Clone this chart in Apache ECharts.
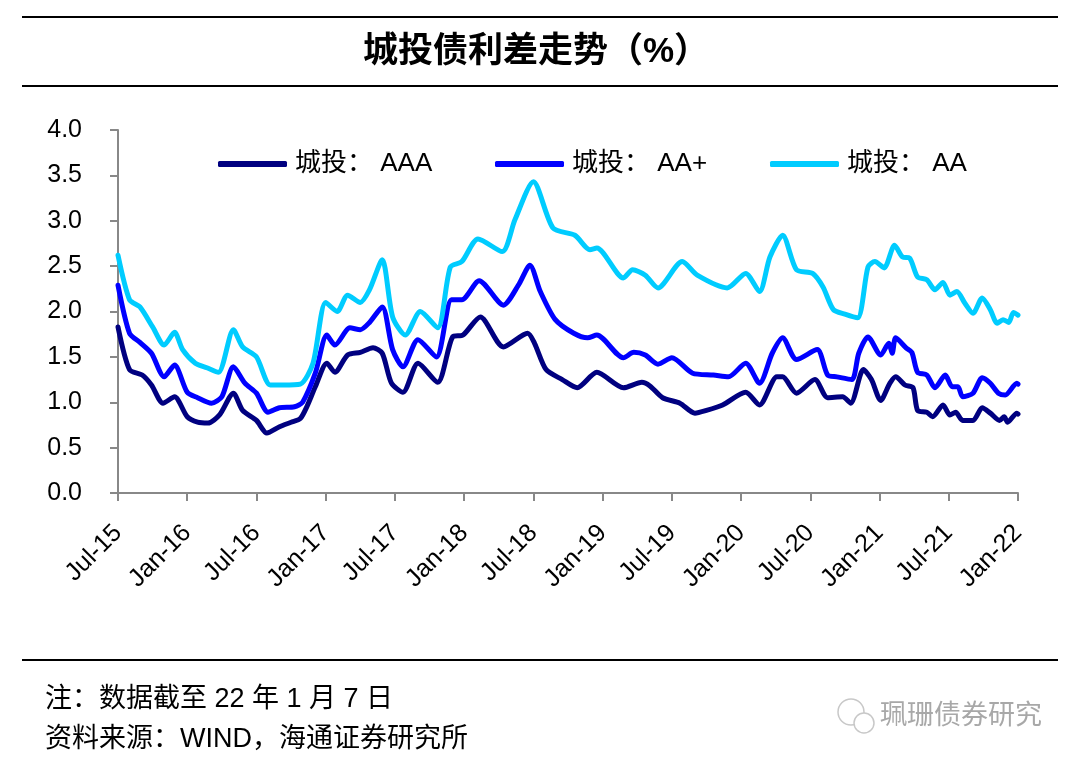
<!DOCTYPE html>
<html>
<head>
<meta charset="utf-8">
<title>城投债利差走势</title>
<script src="https://cdn.jsdelivr.net/npm/echarts@6.0.0/dist/echarts.min.js"></script>
<style>
  html, body { margin: 0; padding: 0; background: #fff; }
  #main { width: 1080px; height: 768px; }
</style>
</head>
<body>
<div id="main"></div>
<script>
// x 轴按月计：0 = 2015年7月，78 = 2022年1月
const tickLabels = ['Jul-15', 'Jan-16', 'Jul-16', 'Jan-17', 'Jul-17', 'Jan-18', 'Jul-18',
  'Jan-19', 'Jul-19', 'Jan-20', 'Jul-20', 'Jan-21', 'Jul-21', 'Jan-22']

const seriesNames = ['城投：AAA', '城投：AA+', '城投：AA']

// 城投：AAA
const aaaMonths = [0, 1, 2.1, 2.9, 3.9, 4.9, 6, 6.9, 7.8, 8.8, 10, 10.8, 12, 12.9, 14, 15, 15.8, 16.4,
  17.1, 18.1, 18.8, 19.9, 21, 22.1, 22.9, 23.7, 24.7, 26, 27.7, 29, 29.9, 31.4, 33.4, 35.5, 36.1,
  37.1, 38.5, 39.8, 41.5, 43.8, 45.4, 46.1, 47.2, 48.7, 50, 51, 52.4, 54.4, 55.6, 57.1, 57.6, 58.8,
  60.4, 61.5, 62.8, 63.5, 64.6, 65.3, 66.1, 66.9, 67.4, 68.2, 68.9, 69.3, 70.1, 70.6, 71.5, 72.1,
  72.6, 73.2, 74.1, 74.9, 75.6, 76.4, 76.8, 77.1, 77.9, 78]
const aaaValues = [1.83, 1.36, 1.30, 1.19, 0.99, 1.06, 0.84, 0.78, 0.77, 0.86, 1.10, 0.91, 0.80, 0.66,
  0.73, 0.78, 0.82, 0.96, 1.17, 1.43, 1.33, 1.52, 1.55, 1.60, 1.54, 1.21, 1.11, 1.43, 1.22, 1.72,
  1.74, 1.94, 1.61, 1.76, 1.65, 1.36, 1.25, 1.16, 1.33, 1.16, 1.22, 1.18, 1.05, 0.99, 0.88, 0.91,
  0.97, 1.11, 0.97, 1.28, 1.28, 1.10, 1.25, 1.05, 1.06, 0.99, 1.36, 1.25, 1.02, 1.21, 1.28, 1.19,
  1.16, 0.91, 0.89, 0.84, 0.97, 0.86, 0.89, 0.80, 0.80, 0.94, 0.88, 0.80, 0.84, 0.78, 0.88, 0.87]

// 城投：AA+
const aapMonths = [0, 1, 1.9, 2.9, 4, 4.9, 6, 6.9, 8.1, 9, 10, 11, 12, 13, 14, 15.3, 16, 17.1, 18.1,
  18.8, 20.1, 21, 21.8, 22.9, 23.8, 24.7, 26, 27.6, 28.9, 29.8, 31.3, 33.4, 34.7, 35.7, 36.6, 37.9,
  39.5, 40.7, 41.5, 43.8, 44.7, 45.7, 46.8, 48, 49.8, 51.6, 52.9, 54.4, 55.6, 56.7, 57.6, 58.8, 60.6,
  61.5, 62.3, 63.6, 64.2, 65, 66.1, 66.8, 67.1, 67.4, 68.3, 68.8, 69.3, 70.1, 70.8, 71.7, 72.3, 72.8,
  73.2, 74.1, 74.9, 75.6, 76.3, 76.9, 77.9, 78]
const aapValues = [2.29, 1.76, 1.66, 1.54, 1.28, 1.41, 1.11, 1.05, 0.99, 1.06, 1.39, 1.21, 1.10, 0.89,
  0.94, 0.95, 1.00, 1.32, 1.74, 1.63, 1.82, 1.80, 1.88, 2.05, 1.58, 1.39, 1.69, 1.50, 2.13, 2.13,
  2.34, 2.07, 2.29, 2.51, 2.22, 1.91, 1.76, 1.71, 1.74, 1.49, 1.55, 1.52, 1.42, 1.49, 1.32, 1.30,
  1.28, 1.43, 1.21, 1.54, 1.71, 1.47, 1.58, 1.30, 1.28, 1.25, 1.54, 1.72, 1.52, 1.65, 1.54, 1.71,
  1.60, 1.55, 1.33, 1.30, 1.16, 1.30, 1.17, 1.17, 1.06, 1.10, 1.27, 1.21, 1.10, 1.08, 1.21, 1.20]

// 城投：AA
const aaMonths = [0, 1, 1.9, 3, 4, 4.9, 5.6, 6.7, 7.7, 8.7, 10, 10.8, 12, 13.2, 14.3, 15.8, 16.9, 18,
  19, 19.9, 21, 21.8, 22.9, 23.8, 24.9, 26.2, 27.7, 28.8, 29.8, 31.2, 33.3, 34.4, 36, 37.7, 39.6,
  40.9, 41.5, 43.8, 44.6, 45.7, 46.8, 48.9, 50.2, 52.8, 54.4, 55.6, 56.5, 57.6, 58.8, 60.2, 61.1, 62,
  63, 64.1, 65, 65.6, 66.4, 67.3, 68, 68.6, 69.3, 70.1, 70.8, 71.5, 72.1, 72.7, 73.4, 74.1, 74.9,
  75.6, 76.2, 76.7, 77.2, 77.6, 78]
const aaValues = [2.62, 2.13, 2.05, 1.83, 1.63, 1.77, 1.58, 1.43, 1.38, 1.33, 1.80, 1.61, 1.50, 1.19,
  1.19, 1.20, 1.43, 2.10, 2.00, 2.18, 2.10, 2.24, 2.57, 1.94, 1.74, 2.00, 1.82, 2.49, 2.55, 2.80,
  2.66, 3.01, 3.43, 2.92, 2.84, 2.68, 2.70, 2.37, 2.46, 2.40, 2.26, 2.55, 2.40, 2.26, 2.42, 2.22,
  2.60, 2.84, 2.46, 2.42, 2.27, 2.02, 1.97, 1.93, 2.49, 2.55, 2.48, 2.73, 2.60, 2.59, 2.38, 2.35,
  2.24, 2.32, 2.18, 2.22, 2.09, 1.98, 2.15, 2.02, 1.87, 1.91, 1.88, 1.99, 1.96]

const colors = ['#000080', '#0000FF', '#00CCFF']
const fontFamily = '"Liberation Sans", "Noto Sans CJK SC", sans-serif'

const zip = (xs, ys) => xs.map((x, i) => [x, ys[i]])
const allData = [zip(aaaMonths, aaaValues), zip(aapMonths, aapValues), zip(aaMonths, aaValues)]

const chart = echarts.init(document.getElementById('main'))

// 每个图例单独定位
const legendLeft = [218, 495, 770]
const legends = seriesNames.map((name, i) => ({
  data: [name],
  left: legendLeft[i],
  top: 151,
  padding: 0,
  icon: 'roundRect',
  itemWidth: 69,
  itemHeight: 6,
  itemGap: 0,
  formatter: n => n.replace('：', '： '),
  textStyle: { fontSize: 26, color: '#000', fontFamily, padding: [0, 0, 0, 3] }
}))

// 横线
const rule = y => ({
  type: 'line',
  shape: { x1: 22, y1: y, x2: 1058, y2: y },
  style: { stroke: '#000', lineWidth: 2 }
})

chart.setOption({
  animation: false,
  backgroundColor: '#fff',
  color: colors,
  title: {
    text: '城投债利差走势（%）',
    left: 358,
    top: 30,
    textStyle: { fontSize: 35, fontWeight: 'bold', color: '#000', fontFamily }
  },
  legend: legends,
  grid: { left: 118, right: 62, top: 130, bottom: 275 },
  xAxis: {
    type: 'value',
    min: 0,
    max: 78,
    interval: 6,
    axisLine: { show: true, lineStyle: { color: '#888', width: 2 } },
    axisTick: { show: true, length: 8, lineStyle: { color: '#888', width: 2 } },
    splitLine: { show: false },
    axisLabel: {
      rotate: 45,
      margin: 36,
      fontSize: 25,
      color: '#000',
      fontFamily,
      formatter: v => tickLabels[Math.round(v / 6)]
    }
  },
  yAxis: {
    type: 'value',
    min: 0,
    max: 4,
    interval: 0.5,
    axisLine: { show: true, lineStyle: { color: '#888', width: 2 } },
    axisTick: { show: true, length: 8, lineStyle: { color: '#888', width: 2 } },
    splitLine: { show: false },
    axisLabel: {
      margin: 36,
      fontSize: 25,
      color: '#000',
      fontFamily,
      formatter: v => v.toFixed(1)
    }
  },
  series: seriesNames.map((name, i) => ({
    name,
    type: 'line',
    data: allData[i],
    smooth: 0.25,
    showSymbol: false,
    lineStyle: { width: 5, color: colors[i], cap: 'round', join: 'round' }
  })),
  graphic: [
    rule(17), rule(86), rule(660),
    {
      type: 'text',
      left: 45,
      top: 686,
      style: { text: '注：数据截至 22 年 1 月 7 日', fontSize: 27, fill: '#000', fontFamily }
    },
    {
      type: 'text',
      left: 45,
      top: 726,
      style: { text: '资料来源：WIND，海通证券研究所', fontSize: 27, fill: '#000', fontFamily }
    },
    // 水印
    { type: 'circle', shape: { cx: 851, cy: 712, r: 13 }, style: { fill: '#fff', stroke: '#c8c8c8', lineWidth: 1.5 } },
    { type: 'circle', shape: { cx: 864, cy: 723, r: 10 }, style: { fill: '#fff', stroke: '#c8c8c8', lineWidth: 1.5 } },
    {
      type: 'text',
      left: 880,
      top: 703,
      style: { text: '珮珊债券研究', fontSize: 27, fill: '#a8a8a8', fontFamily }
    }
  ]
})
</script>
</body>
</html>
